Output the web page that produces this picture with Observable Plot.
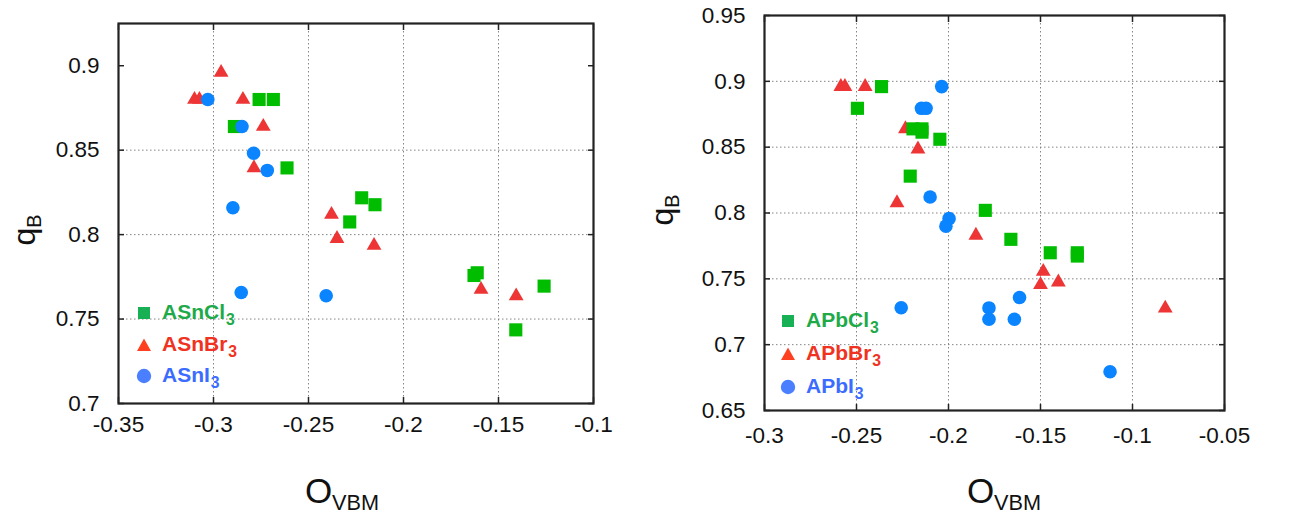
<!DOCTYPE html>
<html>
<head>
<meta charset="utf-8">
<script src="https://cdn.jsdelivr.net/npm/d3@7"></script>
<script src="https://cdn.jsdelivr.net/npm/@observablehq/plot@0.6"></script>
<style>
  html, body { margin: 0; padding: 0; background: #fff; }
  #wrap { position: relative; width: 1290px; height: 516px; overflow: hidden; font-family: "Liberation Sans", Arial, sans-serif; }
  .panel { position: absolute; top: 0; }
  .ttl { position: absolute; transform: translate(-50%, -50%); white-space: nowrap; color: #111; line-height: 1; }
  .ttl sub { font-size: 62%; vertical-align: baseline; position: relative; top: 0.3em; }
  .qb { font-size: 32px; transform: translate(-50%, -50%) rotate(-90deg); }
  .ov { font-size: 35px; }
  .leg { position: absolute; font-weight: bold; font-size: 21px; line-height: 1; white-space: nowrap; }
  .leg svg { position: absolute; left: -8px; top: -8px; }
  .leg span { position: absolute; left: 18px; top: -12.5px; }
  .leg sub { font-size: 75%; vertical-align: baseline; position: relative; top: 0.42em; margin-left: 1px; }
</style>
</head>
<body>
<div id="wrap"></div>
<script>
// ---------- Data ----------
// Left panel: ASnX3   [O_VBM, q_B]
const snCl = [[-0.276,0.880],[-0.2685,0.880],[-0.289,0.864],[-0.2613,0.8395],[-0.222,0.8218],[-0.215,0.8177],[-0.2283,0.8075],[-0.1629,0.7758],[-0.1612,0.7774],[-0.126,0.7695],[-0.1409,0.7436]];
const snBr = [[-0.296,0.896],[-0.310,0.880],[-0.3074,0.880],[-0.2845,0.880],[-0.2738,0.864],[-0.2787,0.8395],[-0.2379,0.8119],[-0.235,0.7976],[-0.2155,0.7935],[-0.1592,0.7675],[-0.1407,0.7636]];
const snI  = [[-0.303,0.880],[-0.285,0.864],[-0.2789,0.8482],[-0.2717,0.838],[-0.2898,0.8159],[-0.2854,0.7657],[-0.2407,0.7638]];
// Right panel: APbX3
const pbCl = [[-0.2364,0.896],[-0.2495,0.8795],[-0.2193,0.8639],[-0.2144,0.8639],[-0.2144,0.8614],[-0.2047,0.856],[-0.2208,0.828],[-0.180,0.802],[-0.1661,0.780],[-0.1447,0.7698],[-0.130,0.7698],[-0.130,0.7673]];
const pbBr = [[-0.2585,0.896],[-0.2563,0.896],[-0.2453,0.896],[-0.2234,0.8639],[-0.2166,0.8485],[-0.228,0.8077],[-0.1851,0.783],[-0.1485,0.7556],[-0.1500,0.7455],[-0.1403,0.7475],[-0.0822,0.7277]];
const pbI  = [[-0.2037,0.896],[-0.2147,0.8795],[-0.2122,0.8795],[-0.210,0.8122],[-0.1997,0.7957],[-0.2014,0.790],[-0.2257,0.728],[-0.1614,0.7358],[-0.178,0.7279],[-0.178,0.7193],[-0.1642,0.7193],[-0.1122,0.6794]];

// Axes ticks / domains
const leftXTicks  = [-0.35, -0.3, -0.25, -0.2, -0.15, -0.1];
const leftYTicks  = [0.7, 0.75, 0.8, 0.85, 0.9];
const leftYDomain = [0.7, 0.925];
const rightXTicks = [-0.3, -0.25, -0.2, -0.15, -0.1, -0.05];
const rightYTicks = [0.65, 0.7, 0.75, 0.8, 0.85, 0.9, 0.95];

// Series labels / colours
const leftNames  = ["ASnCl", "ASnBr", "ASnI"];
const rightNames = ["APbCl", "APbBr", "APbI"];
const markColors   = ["#00bd00", "#ee3535", "#0a84ff"];
const legendColors = ["#17b055", "#ff4020", "#4a80ff"];
const textColors   = ["#1faa4a", "#f03222", "#3b6cff"];

// ---------- Plot builder ----------
function panel({width, mL, mR, mT, mB, xTicks, yTicks, yDomain, series, xPad, yPad}) {
  const dot = (data, symbol, fill, r) => Plot.dot(data, {x: d => d[0], y: d => d[1], symbol, fill, r});
  const fmt = d => String(d);
  return Plot.plot({
    width, height: 516,
    marginLeft: mL, marginRight: mR, marginTop: mT, marginBottom: mB,
    style: {fontFamily: "'Liberation Sans', Arial, sans-serif", background: "#fff", color: "#111"},
    x: {domain: [xTicks[0], xTicks[xTicks.length - 1]]},
    y: {domain: yDomain},
    marks: [
      Plot.gridX(xTicks.slice(1, -1), {stroke: "#777", strokeOpacity: 0.9, strokeDasharray: "1.5,2.5", strokeWidth: 1}),
      Plot.gridY(yTicks.slice(1, -1), {stroke: "#777", strokeOpacity: 0.9, strokeDasharray: "1.5,2.5", strokeWidth: 1}),
      Plot.axisX(xTicks, {anchor: "bottom", tickSize: -6, tickPadding: xPad, tickFormat: fmt, fontSize: 22.5, label: null, stroke: "#222", strokeWidth: 1.5}),
      Plot.axisX(xTicks, {anchor: "top", tickSize: -6, tickFormat: () => "", label: null, stroke: "#222", strokeWidth: 1.5}),
      Plot.axisY(yTicks, {anchor: "left", tickSize: -6, tickPadding: yPad, tickFormat: fmt, fontSize: 22.5, label: null, stroke: "#222", strokeWidth: 1.5}),
      Plot.axisY(yTicks, {anchor: "right", tickSize: -6, tickFormat: () => "", label: null, stroke: "#222", strokeWidth: 1.5}),
      Plot.frame({stroke: "#222", strokeWidth: 2.2}),
      dot(series[1], "triangle", markColors[1], 5.5),
      dot(series[0], "square", markColors[0], 7.4),
      dot(series[2], "circle", markColors[2], 6.8)
    ]
  });
}

const wrap = document.getElementById("wrap");

const left = panel({width: 640, mL: 118, mR: 47, mT: 23, mB: 113,
  xTicks: leftXTicks, yTicks: leftYTicks, yDomain: leftYDomain,
  series: [snCl, snBr, snI], xPad: 19, yPad: 25});
left.classList.add("panel"); left.style.left = "0px";
wrap.appendChild(left);

const right = panel({width: 650, mL: 124, mR: 66, mT: 15, mB: 106,
  xTicks: rightXTicks, yTicks: rightYTicks, yDomain: [rightYTicks[0], rightYTicks[rightYTicks.length - 1]],
  series: [pbCl, pbBr, pbI], xPad: 23, yPad: 25});
right.classList.add("panel"); right.style.left = "640px";
wrap.appendChild(right);

// ---------- Titles ----------
function title(cls, html, x, y) {
  const d = document.createElement("div");
  d.className = "ttl " + cls;
  d.innerHTML = html;
  d.style.left = x + "px"; d.style.top = y + "px";
  wrap.appendChild(d);
}
title("qb", "q<sub>B</sub>", 24, 230);
title("qb", "q<sub>B</sub>", 662, 210);
title("ov", "O<sub>VBM</sub>", 342, 490);
title("ov", "O<sub>VBM</sub>", 1004, 490);

// ---------- Legends ----------
const shapes = [
  c => `<rect x="2" y="2" width="12" height="12" fill="${c}"/>`,
  c => `<path d="M8,1.5 L15,14 L1,14 Z" fill="${c}"/>`,
  c => `<circle cx="8" cy="8" r="7.2" fill="${c}"/>`
];
function legend(names, x, ys) {
  names.forEach((n, i) => {
    const d = document.createElement("div");
    d.className = "leg";
    d.style.left = x + "px"; d.style.top = ys[i] + "px";
    d.innerHTML = `<svg width="16" height="16">${shapes[i](legendColors[i])}</svg><span style="color:${textColors[i]}">${n}<sub>3</sub></span>`;
    wrap.appendChild(d);
  });
}
legend(leftNames, 144, [313, 345, 376]);
legend(rightNames, 788, [321, 354, 387]);
</script>
</body>
</html>
